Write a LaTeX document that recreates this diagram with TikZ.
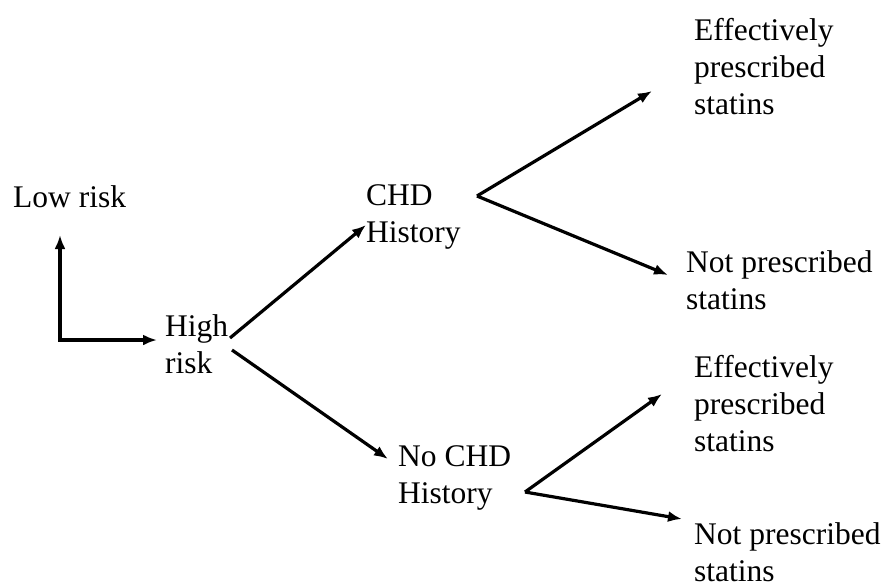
\documentclass[tikz,border=0pt]{standalone}
\usepackage{fontspec}
\setmainfont{Liberation Serif}
\usetikzlibrary{arrows.meta}
\begin{document}
\begin{tikzpicture}[x=1pt,y=-1pt,
  % multi-line labels are placed by the baseline of their last line
  lbl/.style={anchor=base west,inner sep=0pt,align=left,
    font=\fontsize{31.5}{37}\selectfont},
  tip/.style={Latex[length=14pt,width=11pt]},
  link/.style={line width=3.2pt,-{Latex[length=14pt,width=11pt]}}]
\useasboundingbox (0,0) rectangle (886,582);

% labels
\node[lbl] (low)   at (13,207)  {Low risk};
\node[lbl] (high)  at (165,373) {High\\risk};
\node[lbl] (chd)   at (366,242) {CHD\\History};
\node[lbl] (nochd) at (398,503) {No CHD\\History};
\node[lbl] (eff1)  at (694,114) {Effectively\\prescribed\\statins};
\node[lbl] (not1)  at (686,309) {Not prescribed\\statins};
\node[lbl] (eff2)  at (694,451) {Effectively\\prescribed\\statins};
\node[lbl] (not2)  at (694,581) {Not prescribed\\statins};

% connector end points
\coordinate (corner)   at (60,340);
\coordinate (lowtip)   at (60,235);
\coordinate (hightip)  at (157,340);
\coordinate (hiA)      at (230,338);
\coordinate (hiB)      at (232,350);
\coordinate (chdtip)   at (366,225);
\coordinate (nochdtip) at (388,459);
\coordinate (v1)       at (477,196);
\coordinate (e1tip)    at (652,91);
\coordinate (n1tip)    at (668,275);
\coordinate (v2)       at (525,492);
\coordinate (e2tip)    at (662,394);
\coordinate (n2tip)    at (682,519);

% connectors
\draw[line width=3.2pt,{Latex[length=14pt,width=11pt]}-{Latex[length=14pt,width=11pt]}]
  (lowtip) -- (corner) -- (hightip);
\draw[link] (hiA) -- (chdtip);
\draw[link] (hiB) -- (nochdtip);
\draw[link] (v1) -- (e1tip);
\draw[link] (v1) -- (n1tip);
\draw[link] (v2) -- (e2tip);
\draw[link] (v2) -- (n2tip);
\end{tikzpicture}
\end{document}
